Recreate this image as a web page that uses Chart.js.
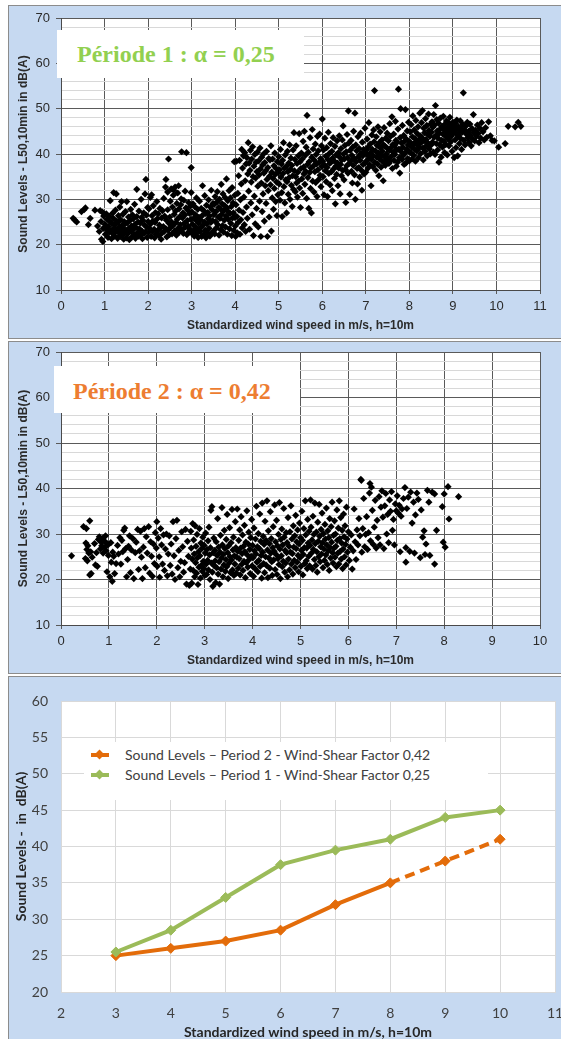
<!DOCTYPE html>
<html>
<head>
<meta charset="utf-8">
<script src="https://cdn.jsdelivr.net/npm/chart.js@4/dist/chart.umd.min.js"></script>
<style>
  html, body { margin:0; padding:0; }
  body { width:561px; height:1039px; position:relative; overflow:hidden; background:#ffffff; }
  .panel { position:absolute; left:8px; width:553px; background:#c6d9f1; border:1px solid #8c8c8c; border-right:none; box-sizing:border-box; z-index:0; }
  #panel1 { top:5px; height:334px; }
  #panel2 { top:341px; height:333px; }
  #panel3 { top:676px; height:363px; border-bottom:none; }
  canvas { position:absolute; left:0; z-index:1; }
  #c1 { top:0px; }
  #c2 { top:340px; }
  #c3 { top:675px; }
  .tbox { position:absolute; background:#ffffff; z-index:2; font-family:"Liberation Serif","Times New Roman",serif; font-weight:bold; font-size:24px; white-space:nowrap; box-sizing:border-box; }
  #title1 { left:57px; top:30px; width:247px; height:48px; line-height:49px; padding-left:20px; color:#92d050; }
  #title2 { left:54px; top:366px; width:246px; height:47px; line-height:51px; padding-left:19px; color:#ed7d31; }
  #legend3 { position:absolute; left:84px; top:742px; width:404px; height:58px; background:#ffffff; z-index:2; font-family:Lato,"Open Sans",sans-serif; font-size:14px; color:#404040; }
  .lrow { position:absolute; left:0; height:20px; width:404px; }
  .lline { position:absolute; left:7px; top:8px; width:18px; height:4px; }
  .ldia { position:absolute; left:12px; top:6px; width:7px; height:7px; transform:rotate(45deg); }
  .ltxt { position:absolute; left:41px; top:0; line-height:20px; white-space:nowrap; }
</style>
</head>
<body>
<div class="panel" id="panel1"></div>
<div class="panel" id="panel2"></div>
<div class="panel" id="panel3"></div>
<canvas id="c1" width="561" height="340"></canvas>
<canvas id="c2" width="561" height="335"></canvas>
<canvas id="c3" width="561" height="364"></canvas>
<div class="tbox" id="title1">Période 1 : α = 0,25</div>
<div class="tbox" id="title2">Période 2 : α = 0,42</div>
<div id="legend3"></div>
<script>
// ---------- Panel texts ----------
const title1Text = "Période 1 : α = 0,25";
const title2Text = "Période 2 : α = 0,42";
const xTitleScatter = "Standardized wind speed in m/s, h=10m";
const yTitleScatter = "Sound Levels - L50,10min in dB(A)";
const xTitleLine = "Standardized wind speed in m/s, h=10m";
const yTitleLine = "Sound Levels -  in  dB(A)";

// ---------- Period 1 scatter (wind speed m/s, dB(A)) ----------
const period1Low = [
[0.28,25.8],[0.32,25.4],[0.36,25.0],[0.47,27.3],[0.53,27.7],[0.56,28.1],[0.63,24.4],[0.67,25.8],[0.78,27.6],[0.84,24.1],[0.88,22.9],[0.9,27.5],[0.92,25.1],[0.93,21.2],[0.95,27.2],[0.96,20.7],[0.97,23.6],[0.98,26.3],
[1.01,24.5],[1.02,22.3],[1.04,26.8],[1.05,23.4],[1.06,25.6],[1.08,21.6],[1.09,24.0],[1.1,26.2],[1.11,22.8],[1.13,29.7],[1.13,25.0],[1.15,23.1],[1.16,21.3],[1.17,24.7],[1.18,26.9],[1.19,22.4],[1.2,25.8],[1.21,31.5],[1.22,23.7],[1.23,21.9],[1.24,24.4],[1.25,27.6],[1.26,22.9],[1.27,31.2],[1.28,25.2],[1.29,23.3],[1.3,21.4],[1.31,24.9],[1.32,26.4],[1.33,22.6],[1.34,23.9],[1.35,28.3],[1.36,21.8],[1.37,25.5],[1.38,23.0],[1.39,29.5],[1.4,24.2],[1.41,22.1],[1.42,26.7],[1.43,23.5],[1.44,21.2],[1.45,25.1],[1.46,22.7],[1.47,24.6],[1.48,27.3],[1.49,23.2],[1.5,21.5],[1.51,29.5],
[1.52,24.8],[1.53,22.4],[1.55,26.1],[1.56,23.6],[1.57,21.1],[1.58,25.3],[1.6,27.8],[1.61,22.9],[1.62,24.1],[1.63,21.7],[1.64,26.6],[1.65,23.3],[1.66,25.7],[1.68,22.2],[1.69,28.9],[1.7,24.5],[1.71,21.4],[1.72,23.8],[1.74,32.2],[1.74,26.2],[1.75,22.6],[1.77,25.0],[1.78,21.9],[1.79,27.4],[1.8,23.5],[1.82,24.8],[1.83,22.1],[1.84,30.0],[1.85,26.0],[1.86,23.0],[1.87,21.3],[1.88,25.4],[1.9,27.0],[1.91,22.5],[1.92,24.3],[1.93,31.2],[1.94,22.8],[1.95,34.4],[1.96,26.5],[1.97,23.9],[1.98,21.6],[1.99,28.2]
];
const period1Mid = [
[2.0,25.1],[2.01,22.7],[2.02,27.9],[2.03,23.6],[2.05,30.4],[2.06,24.6],[2.07,21.8],[2.08,31.0],[2.09,26.4],[2.1,22.9],[2.11,25.2],[2.12,28.6],[2.14,23.4],[2.15,21.5],[2.16,24.9],[2.17,27.1],[2.18,22.3],[2.2,29.5],[2.21,25.7],[2.22,23.1],[2.23,26.8],[2.25,22.0],[2.26,24.3],[2.27,28.0],[2.28,23.7],[2.3,21.2],[2.31,25.9],[2.32,22.6],[2.33,27.5],[2.35,24.0],[2.36,30.2],[2.37,22.9],[2.38,26.3],[2.4,32.7],[2.41,34.4],[2.41,23.5],[2.42,25.4],[2.43,21.7],[2.45,31.6],[2.45,27.7],[2.46,23.2],[2.47,38.9],[2.48,24.7],[2.49,22.2],
[2.5,26.1],[2.51,29.6],[2.52,23.8],[2.53,32.3],[2.54,25.0],[2.55,22.4],[2.56,28.3],[2.57,24.2],[2.58,30.9],[2.59,32.0],[2.6,26.7],[2.61,23.0],[2.62,32.7],[2.63,27.4],[2.64,24.9],[2.65,22.1],[2.66,29.1],[2.67,25.6],[2.68,31.4],[2.69,23.6],[2.7,33.0],[2.71,27.9],[2.72,22.8],[2.73,26.2],[2.74,24.4],[2.75,28.8],[2.76,30.1],[2.77,40.5],[2.78,23.3],[2.79,25.9],[2.8,27.0],[2.81,22.5],[2.82,29.8],[2.83,24.7],[2.84,26.5],[2.85,31.8],[2.86,23.9],[2.87,28.1],[2.88,40.3],[2.89,22.2],[2.9,25.3],[2.91,27.6],[2.92,24.1],[2.93,29.3],[2.94,22.9],[2.95,26.9],[2.96,23.4],[2.97,28.5],[2.98,25.6],[2.99,37.0],[2.99,31.5],
[3.0,22.6],[3.01,27.2],[3.02,24.5],[3.03,29.0],[3.04,23.1],[3.05,25.8],[3.06,21.9],[3.07,28.4],[3.08,24.0],[3.09,26.6],[3.1,22.4],[3.11,30.3],[3.12,25.2],[3.13,23.5],[3.14,27.8],[3.15,21.6],[3.16,24.8],[3.17,26.0],[3.18,29.6],[3.19,22.9],[3.2,25.5],[3.21,23.8],[3.22,28.0],[3.23,21.8],[3.24,26.4],[3.25,33.0],[3.26,24.3],[3.27,22.2],[3.28,27.5],[3.29,25.0],[3.3,30.8],[3.31,23.2],[3.32,26.9],[3.33,21.5],[3.34,28.7],[3.35,24.6],[3.36,22.7],[3.37,27.1],[3.38,25.7],[3.39,29.9],[3.4,23.6],[3.41,26.3],[3.42,21.9],[3.43,28.3],[3.44,24.9],[3.45,32.0],[3.46,22.5],[3.47,27.7],[3.48,25.3],[3.49,29.1],[3.5,23.0],
[3.51,26.6],[3.52,28.9],[3.53,22.4],[3.54,30.6],[3.55,25.1],[3.56,27.3],[3.57,23.7],[3.58,29.4],[3.59,31.7],[3.6,24.4],[3.61,26.1],[3.62,28.2],[3.63,22.1],[3.64,30.0],[3.65,25.8],[3.66,27.9],[3.67,23.3],[3.68,33.3],[3.69,26.7],[3.7,29.0],[3.71,24.2],[3.72,31.2],[3.73,22.8],[3.74,27.5],[3.75,25.4],[3.76,28.6],[3.77,30.4],[3.78,23.9],[3.79,26.3],[3.8,34.5],[3.81,28.1],[3.82,22.3],[3.83,29.7],[3.84,25.6],[3.85,27.2],[3.86,31.9],[3.87,23.5],[3.88,26.9],[3.89,30.3],[3.9,24.7],[3.91,28.4],[3.92,22.0],[3.93,32.6],[3.94,25.9],[3.95,29.2],[3.96,27.0],[3.97,23.1],[3.98,38.3],[3.99,30.9],[3.99,26.0]
];
const period1Rise = [
[4.0,24.1],[4.01,21.8],[4.02,28.8],[4.03,38.4],[4.04,26.2],[4.05,22.6],[4.06,31.3],[4.07,24.9],[4.08,35.2],[4.09,27.6],[4.1,38.6],[4.11,22.3],[4.12,29.9],[4.13,25.5],[4.14,33.4],[4.15,41.0],[4.16,23.7],[4.17,36.9],[4.18,27.1],[4.19,39.6],[4.2,30.5],[4.21,24.4],[4.22,40.3],[4.23,34.1],[4.24,22.9],[4.25,37.8],[4.26,28.3],[4.27,39.2],[4.28,25.8],[4.29,35.6],[4.3,42.5],[4.31,31.8],[4.32,38.0],[4.33,23.4],[4.34,36.4],[4.35,40.8],[4.36,29.2],[4.37,33.8],[4.38,38.9],[4.39,26.6],[4.4,41.6],[4.41,35.0],[4.42,22.0],[4.43,37.3],[4.44,30.7],[4.45,39.9],[4.46,24.6],[4.47,34.7],[4.48,38.2],[4.49,28.0],[4.5,36.1],
[4.51,40.4],[4.52,32.9],[4.53,23.9],[4.54,38.5],[4.55,35.4],[4.56,29.6],[4.57,41.3],[4.58,36.7],[4.59,21.8],[4.6,33.6],[4.61,39.3],[4.62,27.3],[4.63,37.6],[4.64,31.2],[4.65,40.0],[4.66,35.8],[4.67,25.2],[4.68,38.1],[4.69,33.0],[4.7,36.3],[4.71,29.1],[4.72,40.6],[4.73,34.4],[4.74,21.8],[4.75,37.0],[4.76,31.9],[4.77,39.0],[4.78,26.1],[4.79,35.1],[4.8,38.7],[4.81,33.2],[4.82,41.8],[4.83,23.0],[4.84,36.0],[4.85,30.3],[4.86,38.9],[4.87,34.6],[4.88,27.8],[4.89,37.4],[4.9,32.4],[4.91,40.2],[4.92,35.5],[4.93,29.5],[4.94,36.8],[4.95,33.8],[4.96,26.4],[4.97,38.3],[4.98,31.0],[4.99,35.9],
[5.0,39.4],[5.01,33.4],[5.02,36.5],[5.03,29.8],[5.04,41.0],[5.05,34.9],[5.06,37.8],[5.07,31.5],[5.08,26.2],[5.09,38.6],[5.1,35.7],[5.11,42.5],[5.12,32.8],[5.13,36.9],[5.14,29.2],[5.15,39.8],[5.16,34.3],[5.17,37.2],[5.18,27.0],[5.19,33.9],[5.2,40.6],[5.21,36.1],[5.22,31.1],[5.23,38.0],[5.24,34.8],[5.25,42.0],[5.26,30.0],[5.27,36.6],[5.28,39.1],[5.29,33.1],[5.3,37.5],[5.31,28.4],[5.32,35.2],[5.33,40.9],[5.34,32.2],[5.35,44.7],[5.36,36.3],[5.37,38.8],[5.38,31.7],[5.39,35.0],[5.4,41.8],[5.41,33.6],[5.42,37.9],[5.43,30.5],[5.44,36.0],[5.45,39.6],[5.46,34.1],[5.47,44.5],[5.48,32.5],[5.49,38.3],[5.5,28.2],
[5.51,36.8],[5.52,40.2],[5.53,34.5],[5.54,38.9],[5.55,31.3],[5.56,42.8],[5.57,37.1],[5.58,35.6],[5.59,45.0],[5.6,33.3],[5.61,39.7],[5.62,36.2],[5.63,41.5],[5.64,30.2],[5.65,48.5],[5.66,37.7],[5.67,34.8],[5.68,40.4],[5.69,28.0],[5.7,38.3],[5.71,35.9],[5.72,43.6],[5.73,32.4],[5.74,36.9],[5.75,27.0],[5.76,39.3],[5.77,45.4],[5.78,34.0],[5.79,41.1],[5.8,37.4],[5.81,31.6],[5.82,38.6],[5.83,36.1],[5.84,42.2],[5.85,33.7],[5.86,39.9],[5.87,37.8],[5.88,30.6],[5.89,43.9],[5.9,36.5],[5.91,40.7],[5.92,34.4],[5.93,38.1],[5.94,44.4],[5.95,35.3],[5.96,39.0],[5.97,32.8],[5.98,41.8],[5.99,37.2],[6.0,47.7]
];
const period1High = [
[6.01,38.4],[6.02,35.0],[6.03,40.9],[6.04,31.0],[6.05,37.6],[6.06,43.5],[6.07,36.3],[6.08,39.5],[6.09,33.9],[6.1,41.4],[6.11,37.0],[6.12,30.6],[6.13,38.8],[6.14,44.8],[6.15,35.7],[6.16,40.1],[6.17,37.9],[6.18,33.2],[6.19,42.3],[6.2,38.2],[6.21,36.1],[6.22,40.6],[6.23,31.9],[6.24,39.1],[6.25,43.6],[6.26,36.7],[6.27,38.5],[6.28,34.6],[6.29,41.7],[6.3,29.0],[6.31,37.3],[6.32,39.8],[6.33,35.5],[6.34,42.9],[6.35,38.0],[6.36,33.0],[6.37,40.3],[6.38,36.9],[6.39,44.0],[6.4,39.3],[6.41,31.2],[6.42,37.7],[6.43,41.2],[6.44,35.2],[6.45,38.7],[6.46,43.1],[6.47,36.4],[6.48,46.2],[6.49,40.0],[6.5,34.3],
[6.51,38.9],[6.52,41.9],[6.53,36.6],[6.54,29.3],[6.55,40.5],[6.56,37.4],[6.57,44.3],[6.58,39.2],[6.59,35.8],[6.6,49.5],[6.61,42.4],[6.62,37.9],[6.63,31.1],[6.64,40.8],[6.65,38.4],[6.66,43.0],[6.67,36.2],[6.68,39.7],[6.69,33.6],[6.7,41.5],[6.71,37.5],[6.72,45.0],[6.73,39.0],[6.74,35.4],[6.75,49.0],[6.76,30.0],[6.77,42.0],[6.78,38.3],[6.79,40.7],[6.8,36.8],[6.81,33.4],[6.82,43.8],[6.83,39.4],[6.84,37.0],[6.85,41.2],[6.86,34.9],[6.87,38.6],[6.88,44.6],[6.89,40.1],[6.9,36.4],[6.91,32.0],[6.92,42.6],[6.93,39.6],[6.94,37.7],[6.95,41.0],[6.96,35.6],[6.97,40.4],[6.98,45.7],[6.99,38.1],[7.0,36.0],
[7.01,40.9],[7.02,38.5],[7.03,43.3],[7.04,39.8],[7.05,36.9],[7.06,41.6],[7.07,46.9],[7.08,39.1],[7.09,37.6],[7.1,42.2],[7.11,40.3],[7.12,33.0],[7.13,38.8],[7.14,44.2],[7.15,41.0],[7.16,37.2],[7.17,39.6],[7.18,45.3],[7.19,42.7],[7.2,54.0],[7.21,38.1],[7.22,40.7],[7.23,36.4],[7.24,43.8],[7.25,39.3],[7.26,41.9],[7.27,37.8],[7.28,46.0],[7.29,40.2],[7.3,35.2],[7.31,42.5],[7.32,38.9],[7.33,44.9],[7.34,41.3],[7.35,37.1],[7.36,39.7],[7.37,43.1],[7.38,40.6],[7.39,38.3],[7.4,34.1],[7.41,42.0],[7.42,45.8],[7.43,39.4],[7.44,41.7],[7.45,37.5],[7.46,43.5],[7.47,40.0],[7.48,38.7],[7.49,44.6],[7.5,41.2],
[7.51,39.1],[7.52,42.9],[7.53,37.9],[7.54,40.8],[7.55,46.7],[7.56,38.4],[7.57,43.9],[7.58,41.4],[7.59,39.5],[7.6,48.2],[7.61,36.8],[7.62,42.1],[7.63,40.4],[7.64,44.4],[7.65,38.6],[7.66,41.8],[7.67,39.9],[7.68,47.2],[7.69,43.0],[7.7,37.3],[7.71,40.9],[7.72,42.6],[7.73,38.2],[7.74,45.5],[7.75,54.3],[7.76,41.1],[7.77,39.2],[7.78,35.8],[7.79,43.6],[7.8,50.0],[7.81,40.5],[7.82,42.4],[7.83,38.8],[7.84,46.3],[7.85,41.5],[7.86,39.7],[7.87,44.1],[7.88,37.7],[7.89,42.8],[7.9,40.2],[7.91,49.8],[7.92,38.0],[7.93,43.3],[7.94,41.0],[7.95,45.1],[7.96,39.0],[7.97,42.0],[7.98,47.0],[7.99,40.6],[8.0,38.5]
];
const period1Top = [
[8.01,42.7],[8.02,44.9],[8.03,40.3],[8.04,46.5],[8.05,41.6],[8.06,38.9],[8.07,43.8],[8.08,48.4],[8.09,42.2],[8.1,39.7],[8.11,45.3],[8.12,41.0],[8.13,43.4],[8.14,38.4],[8.15,47.4],[8.16,42.8],[8.17,40.7],[8.18,44.5],[8.19,41.9],[8.2,46.0],[8.21,39.2],[8.22,43.1],[8.23,41.4],[8.24,49.0],[8.25,44.0],[8.26,40.1],[8.27,42.5],[8.28,46.9],[8.29,43.6],[8.3,49.6],[8.31,41.3],[8.32,38.7],[8.33,45.7],[8.34,42.9],[8.35,44.7],[8.36,40.6],[8.37,47.8],[8.38,43.2],[8.39,41.8],[8.4,46.3],[8.41,39.6],[8.42,44.3],[8.43,42.4],[8.44,48.8],[8.45,45.2],[8.46,41.1],[8.47,43.9],[8.48,40.0],[8.49,46.6],[8.5,42.0],
[8.51,44.8],[8.52,47.1],[8.53,42.6],[8.54,45.9],[8.55,40.4],[8.56,48.7],[8.57,43.7],[8.58,46.4],[8.59,39.9],[8.6,50.7],[8.61,44.1],[8.62,42.3],[8.63,47.6],[8.64,45.1],[8.65,40.9],[8.66,43.5],[8.67,46.8],[8.68,38.2],[8.69,44.6],[8.7,42.0],[8.71,47.9],[8.72,45.6],[8.73,39.3],[8.74,43.0],[8.75,46.1],[8.76,41.5],[8.77,44.4],[8.78,48.3],[8.79,42.8],[8.8,45.4],[8.81,40.3],[8.82,46.6],[8.83,43.9],[8.84,42.1],[8.85,47.3],[8.86,44.9],[8.87,39.8],[8.88,45.8],[8.89,43.3],[8.9,46.9],[8.91,41.8],[8.92,44.2],[8.93,48.1],[8.94,45.3],[8.95,42.7],[8.96,46.3],[8.97,44.0],[8.98,40.6],[8.99,45.9],[9.0,47.0],
[9.01,44.7],[9.02,46.2],[9.03,39.2],[9.04,45.4],[9.05,43.1],[9.06,46.8],[9.07,41.4],[9.08,44.5],[9.09,47.5],[9.1,45.8],[9.11,39.6],[9.12,43.8],[9.13,46.0],[9.14,44.2],[9.15,42.3],[9.16,45.1],[9.17,47.3],[9.18,43.4],[9.19,45.7],[9.2,41.0],[9.22,44.9],[9.23,46.5],[9.24,53.5],[9.25,43.0],[9.27,45.3],[9.28,42.0],[9.3,46.2],[9.31,44.4],[9.33,47.0],[9.34,43.6],[9.36,45.0],[9.37,42.6],[9.39,46.6],[9.4,44.1],[9.42,41.8],[9.44,45.6],[9.45,43.3],[9.47,48.7],[9.48,44.7],[9.5,42.9],
[9.52,45.2],[9.54,43.9],[9.56,46.4],[9.58,44.5],[9.6,42.5],[9.62,45.7],[9.64,43.5],[9.66,46.9],[9.69,44.9],[9.72,43.1],[9.75,45.8],[9.78,43.7],[9.82,47.1],[9.86,44.0],[9.9,43.0],[9.95,42.9],[10.05,41.5],[10.2,42.3],[10.27,46.1],[10.43,46.0],[10.5,47.0],[10.56,46.1]
];

// ---------- Period 2 scatter (wind speed m/s, dB(A)) ----------
const period2Low = [
[0.22,25.2],[0.47,31.6],[0.51,24.6],[0.52,28.0],[0.53,31.2],[0.54,26.6],[0.55,24.1],[0.56,27.4],[0.58,25.8],[0.6,32.9],[0.6,21.0],[0.62,26.1],[0.63,21.3],[0.65,24.9],[0.7,27.9],[0.72,23.2],[0.74,25.9],[0.76,22.9],[0.78,28.8],[0.8,29.4],[0.82,26.7],[0.84,28.2],[0.85,27.4],[0.87,29.0],[0.88,25.8],[0.9,28.5],[0.91,27.0],[0.93,29.6],[0.94,26.3],[0.95,28.0],[0.96,21.7],[0.98,27.6],[0.99,25.3],
[1.02,20.6],[1.04,28.1],[1.05,23.8],[1.07,19.6],[1.08,26.0],[1.1,25.1],[1.12,21.3],[1.15,23.5],[1.18,27.5],[1.2,25.6],[1.23,29.2],[1.25,23.4],[1.27,28.6],[1.29,26.1],[1.31,30.8],[1.33,31.3],[1.35,26.8],[1.37,20.6],[1.39,24.4],[1.41,27.3],[1.43,29.6],[1.45,21.5],[1.47,26.5],[1.5,29.0],[1.52,20.2],[1.55,25.9],[1.57,28.2],[1.6,31.0],[1.62,22.2],[1.64,26.3],[1.66,30.6],[1.68,24.9],[1.7,20.2],[1.72,27.1],[1.74,31.2],[1.76,22.6],[1.78,29.4],[1.8,25.8],[1.83,31.6],[1.85,21.4],[1.87,28.3],[1.89,25.1],[1.91,20.7],[1.93,27.8],[1.95,23.5],[1.97,30.3],[1.99,26.9],
[2.0,32.7],[2.01,22.9],[2.03,29.1],[2.05,25.0],[2.06,20.5],[2.08,31.2],[2.1,27.6],[2.12,23.4],[2.14,29.8],[2.16,22.0],[2.18,26.7],[2.2,30.0],[2.22,20.8],[2.24,25.6],[2.26,29.6],[2.28,23.1],[2.3,27.8],[2.32,21.2],[2.34,32.7],[2.36,25.2],[2.38,20.0],[2.4,29.0],[2.42,33.0],[2.44,22.6],[2.46,26.4],[2.48,20.6],[2.5,24.0],[2.52,30.5],[2.54,27.2],[2.56,21.6],[2.58,23.7],[2.6,31.0],[2.62,19.0],[2.64,28.4],[2.66,25.1],[2.68,18.7],[2.7,22.3]
];
const period2Core1 = [
[2.71,30.6],[2.72,26.9],[2.73,19.2],[2.74,24.5],[2.75,32.3],[2.76,22.0],[2.77,28.7],[2.78,25.6],[2.79,20.6],[2.8,31.8],[2.81,23.7],[2.82,27.3],[2.83,21.4],[2.84,29.9],[2.85,24.8],[2.86,18.9],[2.87,26.1],[2.88,22.7],[2.89,31.2],[2.9,25.2],[2.91,20.3],[2.92,28.0],[2.93,23.1],[2.94,26.8],[2.95,21.8],[2.96,29.3],[2.97,24.0],[2.98,22.4],[2.99,27.5],[3.0,20.9],[3.01,25.8],[3.02,30.2],[3.03,23.4],[3.04,21.1],[3.05,26.6],[3.06,24.2],[3.07,28.5],[3.08,22.1],[3.09,31.5],[3.1,25.4],[3.11,20.0],[3.12,27.0],[3.13,35.2],[3.14,23.6],[3.15,36.0],[3.16,21.6],[3.17,18.5],[3.18,25.9],[3.19,29.1],[3.2,23.0],
[3.21,26.4],[3.22,24.1],[3.23,19.3],[3.24,28.3],[3.25,22.6],[3.26,25.3],[3.27,33.4],[3.28,21.2],[3.29,27.1],[3.3,23.9],[3.31,19.0],[3.32,26.0],[3.33,29.7],[3.34,22.3],[3.35,24.7],[3.36,35.8],[3.37,27.6],[3.38,20.6],[3.39,25.5],[3.4,23.2],[3.41,30.8],[3.42,26.8],[3.43,21.8],[3.44,24.4],[3.45,28.8],[3.46,22.8],[3.47,34.3],[3.48,25.9],[3.49,20.2],[3.5,27.4],[3.51,23.6],[3.52,31.4],[3.53,25.0],[3.54,21.5],[3.55,28.1],[3.56,24.3],[3.57,35.4],[3.58,22.1],[3.59,26.5],[3.6,29.3],[3.61,20.9],[3.62,25.2],[3.63,23.4],[3.64,32.7],[3.65,27.0],[3.66,21.4],[3.67,24.9],[3.68,35.5],[3.69,26.2],[3.7,22.5],
[3.71,28.6],[3.72,24.6],[3.73,30.9],[3.74,21.0],[3.75,26.9],[3.76,33.8],[3.77,23.3],[3.78,25.7],[3.79,29.8],[3.8,22.0],[3.81,27.3],[3.82,24.0],[3.83,31.9],[3.84,26.1],[3.85,20.4],[3.86,28.2],[3.87,23.7],[3.88,35.1],[3.89,25.4],[3.9,22.7],[3.91,27.8],[3.92,30.4],[3.93,24.4],[3.94,26.6],[3.95,21.3],[3.96,29.2],[3.97,25.1],[3.98,33.2],[3.99,23.0],[4.0,27.5],[4.01,24.8],[4.02,20.7],[4.03,31.3],[4.04,26.3],[4.05,22.4],[4.06,28.9],[4.07,25.6],[4.08,36.1],[4.09,23.8],[4.1,27.2],[4.11,21.7],[4.12,30.1],[4.13,24.2],[4.14,26.8],[4.15,34.4],[4.16,22.9],[4.17,28.4],[4.18,25.3],[4.19,20.3],[4.2,36.8]
];
const period2Core2 = [
[4.21,26.0],[4.22,29.5],[4.23,23.5],[4.24,27.7],[4.25,21.5],[4.26,32.8],[4.27,25.0],[4.28,28.6],[4.29,23.1],[4.3,37.3],[4.31,26.5],[4.32,20.4],[4.33,30.7],[4.34,24.7],[4.35,27.9],[4.36,22.5],[4.37,34.9],[4.38,25.8],[4.39,29.0],[4.4,23.9],[4.41,20.9],[4.42,27.0],[4.43,31.6],[4.44,24.3],[4.45,26.2],[4.46,36.4],[4.47,22.2],[4.48,28.3],[4.49,25.5],[4.5,33.0],[4.51,21.1],[4.52,27.4],[4.53,24.6],[4.54,29.9],[4.55,23.3],[4.56,36.9],[4.57,26.7],[4.58,20.2],[4.59,28.8],[4.6,25.2],[4.61,31.1],[4.62,22.8],[4.63,27.6],[4.64,24.0],[4.65,35.6],[4.66,29.3],[4.67,21.6],[4.68,26.4],[4.69,23.6],[4.7,30.3],
[4.71,25.9],[4.72,28.1],[4.73,20.6],[4.74,33.6],[4.75,24.5],[4.76,27.3],[4.77,22.1],[4.78,30.5],[4.79,26.0],[4.8,36.2],[4.81,23.4],[4.82,28.9],[4.83,25.7],[4.84,21.2],[4.85,31.8],[4.86,27.1],[4.87,24.2],[4.88,29.6],[4.89,22.6],[4.9,34.1],[4.91,26.8],[4.92,28.3],[4.93,23.8],[4.94,30.9],[4.95,25.3],[4.96,21.7],[4.97,27.8],[4.98,32.4],[4.99,24.8],[5.0,29.2],[5.01,22.9],[5.02,26.4],[5.03,35.0],[5.04,28.6],[5.05,21.0],[5.06,25.5],[5.07,31.2],[5.08,27.0],[5.09,23.5],[5.1,37.3],[5.11,29.8],[5.12,24.1],[5.13,26.9],[5.14,22.4],[5.15,33.2],[5.16,28.0],[5.17,25.1],[5.18,30.6],[5.19,23.0],[5.2,27.5],
[5.21,37.5],[5.22,31.5],[5.23,25.8],[5.24,28.7],[5.25,22.3],[5.26,33.9],[5.27,26.6],[5.28,29.9],[5.29,24.4],[5.3,36.8],[5.31,27.9],[5.32,23.1],[5.33,30.4],[5.34,26.1],[5.35,21.6],[5.36,32.6],[5.37,28.4],[5.38,25.0],[5.39,36.5],[5.4,29.5],[5.41,23.9],[5.42,27.2],[5.43,31.0],[5.44,25.6],[5.45,34.6],[5.46,28.1],[5.47,22.6],[5.48,30.1],[5.49,26.7],[5.5,24.2],[5.51,32.1],[5.52,28.9],[5.53,25.4],[5.54,35.7],[5.55,27.6],[5.56,23.3],[5.57,30.7],[5.58,26.3],[5.59,29.2],[5.6,22.0],[5.61,33.4],[5.62,27.0],[5.63,24.7],[5.64,31.6],[5.65,28.2],[5.66,37.0],[5.67,25.9],[5.68,23.6],[5.69,29.7],[5.7,26.9]
];
const period2High = [
[5.71,32.9],[5.72,24.9],[5.73,30.0],[5.74,27.3],[5.75,22.8],[5.76,35.3],[5.77,28.6],[5.78,25.8],[5.79,31.3],[5.8,23.4],[5.81,37.3],[5.82,29.0],[5.83,26.2],[5.84,33.6],[5.85,24.5],[5.86,28.0],[5.87,30.8],[5.88,22.4],[5.89,26.7],[5.9,34.4],[5.91,29.4],[5.92,25.0],[5.93,31.8],[5.94,27.7],[5.95,23.2],[5.96,35.9],[5.97,28.9],[5.98,26.0],[6.0,30.5],[6.02,24.2],[6.04,27.1],[6.06,29.8],[6.08,22.3],[6.1,26.3],[6.12,35.5],[6.14,28.3],[6.16,24.4],[6.18,30.9],
[6.2,27.6],[6.22,33.4],[6.24,29.6],[6.26,42.0],[6.27,41.8],[6.28,26.0],[6.3,31.2],[6.32,37.8],[6.34,27.2],[6.36,29.9],[6.38,33.8],[6.4,26.6],[6.42,30.3],[6.44,39.0],[6.45,41.1],[6.46,28.5],[6.48,40.3],[6.5,35.2],[6.52,27.7],[6.54,31.5],[6.56,37.4],[6.58,26.9],[6.6,33.0],[6.62,29.2],[6.64,38.2],[6.66,27.6],[6.68,35.9],
[6.7,39.5],[6.72,33.7],[6.74,26.8],[6.76,36.2],[6.78,38.9],[6.8,30.0],[6.82,34.3],[6.84,28.1],[6.86,37.5],[6.88,35.0],[6.9,39.3],[6.92,30.8],[6.94,33.2],[6.96,27.6],[6.98,36.6],[7.0,35.1],[7.02,38.4],[7.04,34.6],[7.06,36.3],[7.08,26.1],[7.1,33.9],[7.12,35.5],[7.15,37.8],[7.18,40.2],[7.2,23.8],[7.2,27.0],
[7.22,35.6],[7.25,38.1],[7.28,26.2],[7.3,39.2],[7.33,32.4],[7.36,37.0],[7.38,25.8],[7.4,34.2],[7.43,39.0],[7.46,37.6],[7.5,24.8],[7.52,35.3],[7.55,29.3],[7.58,30.7],[7.6,25.5],[7.62,27.8],[7.65,39.6],[7.68,37.0],[7.7,25.3],[7.75,39.2],[7.8,23.4],[7.8,38.8],[7.84,30.8],[7.96,36.0],[7.98,28.2],[8.0,38.8],[8.02,27.1],[8.08,40.4],[8.1,33.3],[8.3,38.2]
];

// ---------- Bottom line chart ----------
const windSpeeds = [3, 4, 5, 6, 7, 8, 9, 10];
const period2Levels = [25, 26, 27, 28.5, 32, 35, 38, 41];
const period1Levels = [25.5, 28.5, 33, 37.5, 39.5, 41, 44, 45];
const period2Label = "Sound Levels \u2013 Period 2 - Wind-Shear Factor 0,42";
const period1Label = "Sound Levels \u2013 Period 1 - Wind-Shear Factor 0,25";
const dashedFrom = 8;

const period1Points = [].concat(period1Low, period1Mid, period1Rise, period1High, period1Top);
const period2Points = [].concat(period2Low, period2Core1, period2Core2, period2High);

const ORANGE = '#e36c0a';
const GREEN = '#9bbb59';
const FONT_A = '"Liberation Sans", Arial, sans-serif';
const FONT_B = 'Lato, "Open Sans", sans-serif';

const whiteArea = {
  id: 'whiteArea',
  beforeDraw(chart) {
    const {ctx, chartArea: a} = chart;
    ctx.save();
    ctx.fillStyle = '#ffffff';
    ctx.fillRect(a.left, a.top, a.right - a.left, a.bottom - a.top);
    ctx.restore();
  }
};

function scatterChart(id, points, xMax, padTop) {
  return new Chart(document.getElementById(id), {
    type: 'scatter',
    data: { datasets: [{
      data: points.map(p => ({x: p[0], y: p[1]})),
      pointStyle: 'rectRot', pointRadius: 3.6, pointHoverRadius: 3.6,
      backgroundColor: '#000000', borderColor: '#000000', borderWidth: 0
    }]},
    options: {
      responsive: false, animation: false, events: [],
      layout: { padding: { left: 0, right: 21, top: padTop, bottom: 0 } },
      plugins: { legend: { display: false }, tooltip: { enabled: false } },
      scales: {
        x: {
          type: 'linear', min: 0, max: xMax,
          afterFit: s => { s.height = 50; s.paddingLeft = 0; s.paddingRight = 0; },
          ticks: { stepSize: 1, autoSkip: false, maxRotation: 0, color: '#2b2b2b', font: { family: FONT_A, size: 13 }, padding: 5 },
          grid: { color: '#5a5a5a', tickColor: '#5a5a5a', tickLength: 4, lineWidth: 1 },
          border: { color: '#4a4a4a' },
          title: { display: true, text: xTitleScatter, color: '#2b2b2b', font: { family: FONT_A, size: 12, weight: 'bold' }, padding: { top: 0, bottom: 7 } }
        },
        y: {
          min: 10, max: 70,
          afterFit: s => { s.width = 61; s.paddingTop = 0; s.paddingBottom = 0; },
          ticks: { stepSize: 2, autoSkip: false, color: '#2b2b2b', font: { family: FONT_A, size: 13 }, padding: 6,
                   callback: v => (v % 10 === 0 ? String(v) : '') },
          grid: {
            color: c => (c.tick && c.tick.value % 10 === 0 ? '#5a5a5a' : '#d8d8d8'),
            tickColor: c => (c.tick && c.tick.value % 10 === 0 ? '#5a5a5a' : 'rgba(0,0,0,0)'),
            tickLength: 5, lineWidth: 1
          },
          border: { color: '#4a4a4a' },
          title: { display: true, text: yTitleScatter, color: '#2b2b2b', font: { family: FONT_A, size: 12, weight: 'bold' }, padding: { top: 16, bottom: 0 } }
        }
      }
    },
    plugins: [whiteArea]
  });
}

scatterChart('c1', period1Points, 11, 18);
scatterChart('c2', period2Points, 10, 12);

const lineChart = new Chart(document.getElementById('c3'), {
  type: 'line',
  data: { datasets: [
    { label: period2Label, data: windSpeeds.map((x, i) => ({x: x, y: period2Levels[i]})),
      borderColor: ORANGE, backgroundColor: ORANGE, pointBackgroundColor: ORANGE, pointBorderColor: ORANGE,
      pointStyle: 'rectRot', pointRadius: 5, pointHoverRadius: 5, pointBorderWidth: 1, borderWidth: 4, tension: 0, order: 1,
      segment: { borderDash: c => (c.p0.parsed.x >= dashedFrom ? [10, 6] : undefined) } },
    { label: period1Label, data: windSpeeds.map((x, i) => ({x: x, y: period1Levels[i]})),
      borderColor: GREEN, backgroundColor: GREEN, pointBackgroundColor: GREEN, pointBorderColor: GREEN,
      pointStyle: 'rectRot', pointRadius: 5, pointHoverRadius: 5, pointBorderWidth: 1, borderWidth: 4, tension: 0, order: 0 }
  ]},
  options: {
    responsive: false, animation: false, events: [],
    layout: { padding: { left: 0, right: 5, top: 26, bottom: 0 } },
    plugins: { legend: { display: false }, tooltip: { enabled: false } },
    scales: {
      x: {
        type: 'linear', min: 2, max: 11,
        afterFit: s => { s.height = 47; s.paddingLeft = 0; s.paddingRight = 0; },
        ticks: { stepSize: 1, autoSkip: false, maxRotation: 0, color: '#404040', font: { family: FONT_B, size: 14 }, padding: 13 },
        grid: { color: '#d9d9d9', drawTicks: false, lineWidth: 1 },
        border: { color: '#d9d9d9' },
        title: { display: true, text: xTitleLine, color: '#262626', font: { family: FONT_B, size: 14, weight: 'bold', lineHeight: 1 }, padding: { top: 0, bottom: 0 } }
      },
      y: {
        min: 20, max: 60,
        afterFit: s => { s.width = 61; s.paddingTop = 0; s.paddingBottom = 0; },
        ticks: { stepSize: 5, autoSkip: false, color: '#404040', font: { family: FONT_B, size: 14 }, padding: 13 },
        grid: { color: '#d9d9d9', drawTicks: false, lineWidth: 1 },
        border: { color: '#d9d9d9' },
        title: { display: true, text: yTitleLine, color: '#262626', font: { family: FONT_B, size: 14, weight: 'bold', lineHeight: 1 }, padding: { top: 14, bottom: 0 } }
      }
    }
  },
  plugins: [whiteArea]
});

// HTML legend built from the chart datasets
(function buildLegend() {
  const box = document.getElementById('legend3');
  const rowsTop = [3, 23];
  lineChart.data.datasets.forEach((ds, i) => {
    const row = document.createElement('div');
    row.className = 'lrow';
    row.style.top = rowsTop[i] + 'px';
    const ln = document.createElement('div'); ln.className = 'lline'; ln.style.background = ds.borderColor;
    const dia = document.createElement('div'); dia.className = 'ldia'; dia.style.background = ds.borderColor;
    const tx = document.createElement('div'); tx.className = 'ltxt'; tx.textContent = ds.label;
    row.appendChild(ln); row.appendChild(dia); row.appendChild(tx);
    box.appendChild(row);
  });
})();
document.getElementById('title1').textContent = title1Text;
document.getElementById('title2').textContent = title2Text;
</script>
</body>
</html>
